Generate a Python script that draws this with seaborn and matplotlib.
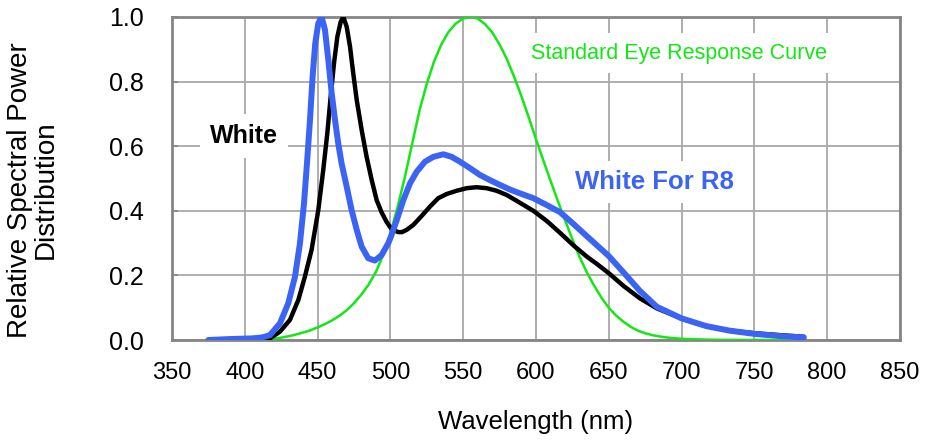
import numpy as np
import pandas as pd
import matplotlib
matplotlib.use("Agg")
import matplotlib.pyplot as plt
import seaborn as sns

# ---- data ----
white_nm = [380, 400, 410, 417.3, 424.2, 431, 436.8, 441.3, 445.9, 450.5, 453.9, 456.7,
            459, 461.3, 463.6, 465.9, 467.7, 470, 472.3, 474.5, 476.9, 480.3, 483.7,
            487.2, 490.6, 494, 497.5, 500.9, 505.4, 508, 511.2, 515.7, 521.5, 527.2,
            532.9, 538.7, 545.5, 552.4, 559.3, 566.1, 573, 579.9, 586.7, 593, 598.2,
            607.3, 616.5, 626, 635, 642, 650, 660, 671.4, 683, 700, 717, 733, 750,
            768, 784]
white_val = [0.0, 0.002, 0.003, 0.005, 0.026, 0.062, 0.124, 0.196, 0.279, 0.402, 0.526,
             0.64, 0.753, 0.857, 0.939, 0.985, 1.0, 0.97, 0.908, 0.826, 0.743, 0.65,
             0.567, 0.495, 0.433, 0.395, 0.365, 0.343, 0.334, 0.334, 0.341, 0.356,
             0.384, 0.413, 0.439, 0.452, 0.462, 0.47, 0.473, 0.47, 0.462, 0.449, 0.431,
             0.414, 0.4, 0.369, 0.332, 0.292, 0.258, 0.235, 0.207, 0.168, 0.129, 0.098,
             0.067, 0.043, 0.029, 0.021, 0.015, 0.01]

r8_nm = [375, 390, 405, 412, 417.3, 424.2, 429.9, 434.5, 437.9, 440.7, 442.9, 444.8,
         446.6, 448.4, 450.5, 452.8, 455.1, 457.4, 459.7, 462, 464.2, 466.5, 470, 473.4,
         476.9, 480.3, 484.8, 489.4, 494, 498.6, 500.4, 504.3, 508.9, 513.5, 518.1,
         523.8, 529.5, 536.4, 542.1, 547.8, 554.7, 561.5, 568.4, 575.3, 582.1, 587.8,
         598.2, 607.3, 616.5, 625.6, 634.8, 643.9, 650, 655, 661, 671.4, 683, 700, 717,
         733, 750, 768, 784]
r8_val = [0.0, 0.003, 0.005, 0.008, 0.015, 0.052, 0.114, 0.196, 0.299, 0.423, 0.557,
          0.681, 0.815, 0.918, 0.98, 1.0, 0.96, 0.867, 0.764, 0.681, 0.609, 0.547, 0.475,
          0.402, 0.341, 0.289, 0.253, 0.246, 0.263, 0.3, 0.32, 0.37, 0.433, 0.485, 0.521,
          0.552, 0.567, 0.575, 0.567, 0.552, 0.532, 0.511, 0.495, 0.48, 0.466, 0.456,
          0.439, 0.418, 0.396, 0.36, 0.322, 0.285, 0.26, 0.235, 0.205, 0.152, 0.103,
          0.067, 0.043, 0.029, 0.019, 0.012, 0.008]

eye_nm = [400, 405, 410, 415, 420, 425, 430, 435, 440, 445, 450, 455, 460, 465, 470,
          475, 480, 485, 490, 495, 500, 505, 510, 515, 520, 525, 530, 535, 540, 545,
          550, 555, 560, 565, 570, 575, 580, 585, 590, 595, 600, 605, 610, 615, 620,
          625, 630, 635, 640, 645, 650, 655, 660, 665, 670, 675, 680, 685, 690, 695,
          700, 705, 710, 715, 720, 730, 740, 750, 760, 770, 780]
eye_val = [0.0004, 0.0006, 0.0012, 0.0022, 0.004, 0.0073, 0.0116, 0.0168, 0.023, 0.030,
           0.039, 0.049, 0.061, 0.075, 0.092, 0.114, 0.140, 0.171, 0.210, 0.262, 0.330,
           0.412, 0.505, 0.608, 0.710, 0.793, 0.862, 0.915, 0.954, 0.980, 0.995, 1.0,
           0.995, 0.978, 0.952, 0.915, 0.870, 0.815, 0.755, 0.690, 0.622, 0.557, 0.493,
           0.431, 0.371, 0.312, 0.257, 0.209, 0.168, 0.131, 0.100, 0.076, 0.057, 0.041,
           0.029, 0.021, 0.015, 0.011, 0.0078, 0.0055, 0.004, 0.0029, 0.0021, 0.0015,
           0.001, 0.0005, 0.00025, 0.00012, 0.00006, 0.00003, 0.000015]

x_ticks = [350, 400, 450, 500, 550, 600, 650, 700, 750, 800, 850]
y_ticks = [0.0, 0.2, 0.4, 0.6, 0.8, 1.0]

# ---- style ----
sns.set_theme(style="whitegrid")
plt.rcParams['font.family'] = ['Liberation Sans', 'DejaVu Sans']
plt.rcParams['text.color'] = 'black'
plt.rcParams['axes.labelcolor'] = 'black'
plt.rcParams['xtick.color'] = 'black'
plt.rcParams['ytick.color'] = 'black'

BLACK = "#000000"
BLUE = "#3b63f4"
GREEN = "#14e814"
GRID = "#a8a8a8"
SPINE = "#858585"

fig = plt.figure(figsize=(9.27, 4.41), dpi=100)
ax = fig.add_axes([0.1855, 0.229, 0.7853, 0.7325])

sns.lineplot(x=eye_nm, y=eye_val, ax=ax, color=GREEN, linewidth=1.8, zorder=3)
sns.lineplot(x=white_nm, y=white_val, ax=ax, color=BLACK, linewidth=3.2, zorder=4,
             solid_capstyle='round', solid_joinstyle='round')
sns.lineplot(x=r8_nm, y=r8_val, ax=ax, color=BLUE, linewidth=4.3, zorder=5,
             solid_capstyle='round', solid_joinstyle='round')

ax.set_xlim(350, 850)
ax.set_ylim(0, 1.0)
ax.set_xticks(x_ticks)
ax.set_yticks(y_ticks)
ax.set_xticklabels([str(v) for v in x_ticks])
ax.set_yticklabels([f"{v:.1f}" for v in y_ticks])

ax.grid(True, color=GRID, linewidth=1.3)
ax.set_axisbelow(True)
for s in ax.spines.values():
    s.set_color(SPINE)
    s.set_linewidth(2.0)
    s.set_visible(True)
ax.set_facecolor("white")

ax.tick_params(axis='y', direction='in', length=4, width=1.2, color=SPINE,
               labelcolor='black', labelsize=18, pad=20, left=True)
ax.tick_params(axis='x', direction='in', length=0, labelcolor='black',
               labelsize=17, pad=16)

ax.set_xlabel("Wavelength (nm)", fontsize=18.5, color='black')
ax.xaxis.set_label_coords(0.5, -0.254)
ax.xaxis.label.set_va('center')
ax.set_ylabel("Relative Spectral Power\nDistribution", fontsize=20, color='black',
              multialignment='center', linespacing=1.0)
ax.yaxis.set_label_coords(-0.191, 0.465)
ax.yaxis.label.set_va('center')

ax.text(399.5, 0.632, "White", fontsize=18, fontweight='bold', color=BLACK,
        ha='center', va='center', zorder=6,
        bbox=dict(boxstyle='square,pad=0.4', fc='white', ec='none'))
ax.text(698, 0.888, "Standard Eye Response Curve", fontsize=15.5, color=GREEN,
        ha='center', va='center', zorder=2,
        bbox=dict(boxstyle='square,pad=0.45', fc='white', ec='none'))
ax.text(681.5, 0.49, "White For R8", fontsize=18.5, fontweight='bold', color=BLUE,
        ha='center', va='center', zorder=2,
        bbox=dict(boxstyle='square,pad=0.35', fc='white', ec='none'))

fig.savefig("out.png", dpi=100)
